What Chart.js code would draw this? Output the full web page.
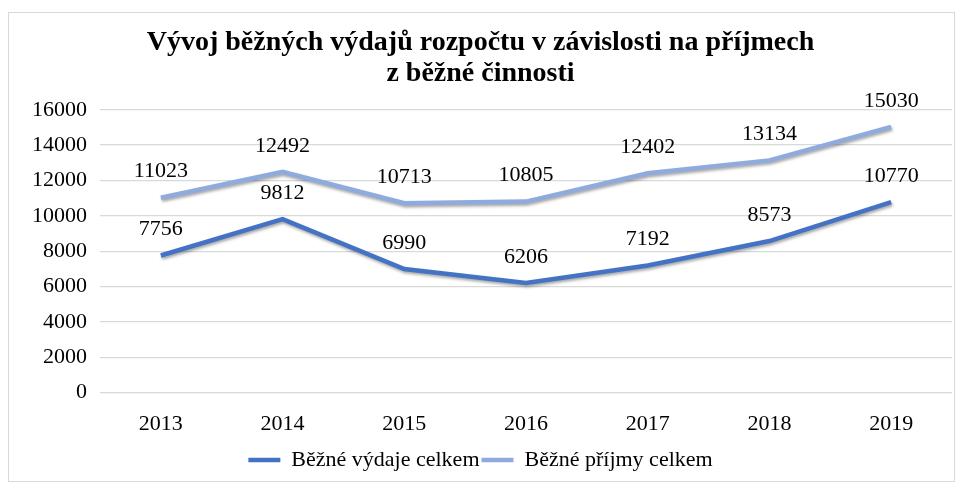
<!DOCTYPE html>
<html>
<head>
<meta charset="utf-8">
<script src="https://cdn.jsdelivr.net/npm/chart.js@4/dist/chart.umd.min.js"></script>
<style>
  body { margin: 0; background: #fff; }
  #frame {
    position: absolute;
    left: 8px;
    top: 12px;
    width: 945px;
    height: 468px;
    border: 1px solid #d9d9d9;
  }
</style>
</head>
<body>
<div id="frame"><canvas id="chart" width="945" height="468"></canvas></div>
<script>
const years = ["2013", "2014", "2015", "2016", "2017", "2018", "2019"];
const vydaje = [7756, 9812, 6990, 6206, 7192, 8573, 10770];
const prijmy = [11023, 12492, 10713, 10805, 12402, 13134, 15030];
const yTicks = [0, 2000, 4000, 6000, 8000, 10000, 12000, 14000, 16000];

const serif = "Liberation Serif";

// line shadow like in the office chart
const shadow = {
  id: "shadow",
  beforeDatasetDraw(chart) {
    const c = chart.ctx;
    c.save();
    c.shadowColor = "rgba(0,0,0,0.35)";
    c.shadowBlur = 3;
    c.shadowOffsetX = 1;
    c.shadowOffsetY = 2;
  },
  afterDatasetDraw(chart) {
    chart.ctx.restore();
  },
};

// value labels above each point
const valueLabels = {
  id: "valueLabels",
  afterDatasetsDraw(chart) {
    const c = chart.ctx;
    c.save();
    c.font = "22px '" + serif + "'";
    c.fillStyle = "#000";
    c.textAlign = "center";
    c.textBaseline = "middle";
    chart.data.datasets.forEach((ds, i) => {
      chart.getDatasetMeta(i).data.forEach((pt, j) => {
        c.fillText(ds.data[j], pt.x, pt.y - 26);
      });
    });
    c.restore();
  },
};

function draw() {
  const ctx = document.getElementById("chart").getContext("2d");
  new Chart(ctx, {
    type: "line",
    data: {
      labels: years,
      datasets: [
        {
          label: "Běžné výdaje celkem",
          data: vydaje,
          borderColor: "#4472C4",
          backgroundColor: "#4472C4",
          borderWidth: 4.5,
          pointRadius: 0,
          pointStyle: "line",
          tension: 0,
        },
        {
          label: "Běžné příjmy celkem",
          data: prijmy,
          borderColor: "#8FAADC",
          backgroundColor: "#8FAADC",
          borderWidth: 4.5,
          pointRadius: 0,
          pointStyle: "line",
          tension: 0,
        },
      ],
    },
    options: {
      responsive: false,
      animation: false,
      layout: { padding: { left: 0, right: 2, top: 0, bottom: 0 } },
      plugins: {
        title: {
          display: true,
          text: ["Vývoj běžných výdajů rozpočtu v závislosti na příjmech", "z běžné činnosti"],
          color: "#000",
          font: { family: serif, size: 28, weight: "bold", lineHeight: 1.12 },
          padding: { top: 14, bottom: 20 },
        },
        legend: {
          position: "bottom",
          labels: {
            color: "#000",
            font: { family: serif, size: 22 },
            usePointStyle: true,
            boxWidth: 32,
            pointStyleWidth: 32,
            boxHeight: 10,
            padding: 2,
          },
        },
        tooltip: { enabled: false },
      },
      scales: {
        x: {
          offset: true,
          grid: { display: false },
          border: { display: false },
          ticks: { color: "#000", font: { family: serif, size: 22 }, padding: 10, maxRotation: 0 },
        },
        y: {
          min: 0,
          max: 16000,
          afterFit: (scale) => { scale.width = 91; },
          afterBuildTicks: (scale) => { scale.ticks = yTicks.map((v) => ({ value: v })); },
          grid: { color: "#d9d9d9", lineWidth: 1.3, drawTicks: false },
          border: { display: false },
          ticks: {
            color: "#000",
            font: { family: serif, size: 22 },
            padding: 13,
            callback: (value) => String(value),
          },
        },
      },
    },
    plugins: [shadow, valueLabels],
  });
}

Promise.all([
  document.fonts.load("22px '" + serif + "'"),
  document.fonts.load("bold 28px '" + serif + "'"),
]).then(draw, draw);
</script>
</body>
</html>
